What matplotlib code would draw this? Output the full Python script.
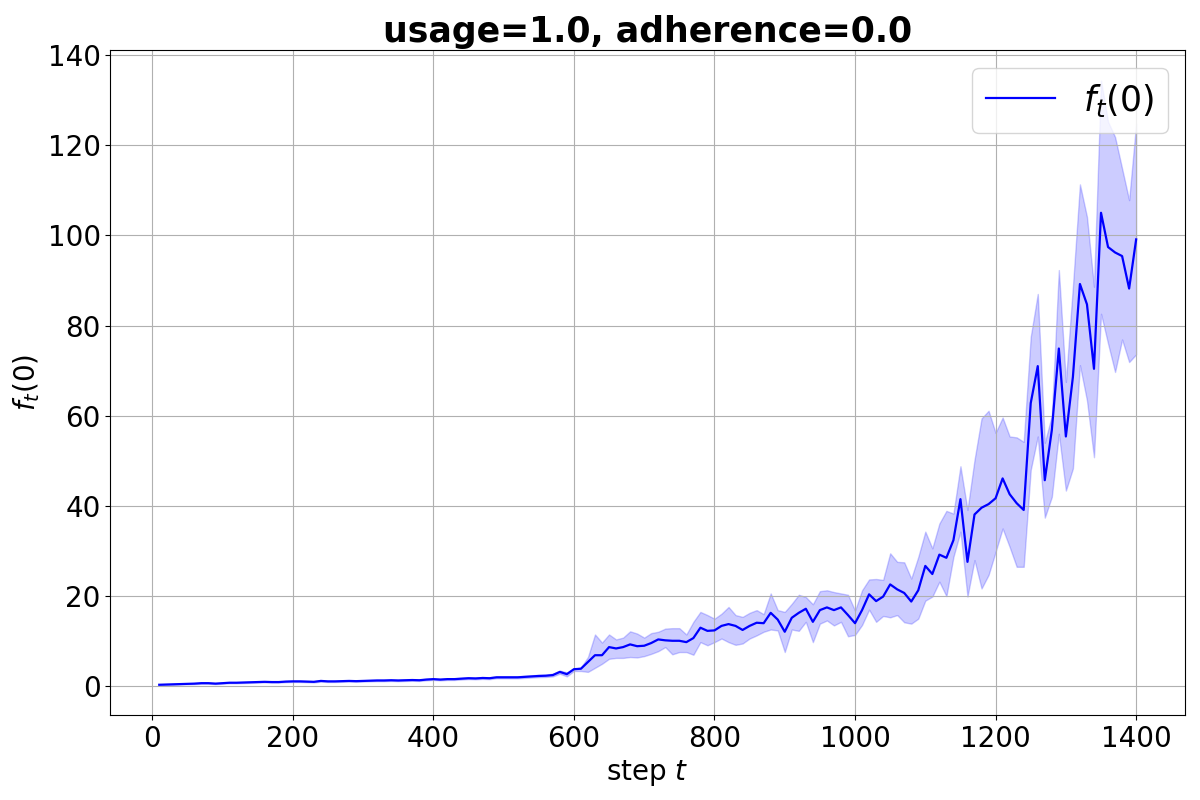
import numpy as np
import matplotlib
matplotlib.use("Agg")
import matplotlib.pyplot as plt

#%% data (one point every 10 steps)
steps = np.arange(10, 1410, 10)

mean_f = [
    0.35, 0.40, 0.45, 0.50, 0.55, 0.60, 0.70, 0.70, 0.60, 0.70,
    0.80, 0.80, 0.85, 0.90, 0.95, 1.00, 0.95, 0.95, 1.05, 1.10,
    1.10, 1.05, 1.00, 1.20, 1.10, 1.10, 1.15, 1.20, 1.15, 1.20,
    1.25, 1.30, 1.30, 1.35, 1.30, 1.35, 1.40, 1.35, 1.50, 1.60,
    1.50, 1.60, 1.60, 1.70, 1.80, 1.75, 1.85, 1.80, 2.00, 2.00,
    2.00, 2.00, 2.10, 2.20, 2.30, 2.35, 2.50,
    3.2, 2.7, 3.8, 3.9, 5.4, 6.9, 6.9, 8.7, 8.4, 8.7,
    9.3, 8.9, 9.0, 9.6, 10.4, 10.2, 10.1, 10.1, 9.8, 10.7,
    13.0, 12.3, 12.4, 13.4, 13.8, 13.4, 12.5, 13.4, 14.1, 14.0,
    16.3, 14.8, 12.1, 15.2, 16.3, 17.2, 14.3, 16.9, 17.5, 16.9,
    17.5, 15.8, 14.0, 16.9, 20.4, 18.9, 19.9, 22.6, 21.5, 20.7,
    18.8, 21.3, 26.7, 24.9, 29.2, 28.5, 32.4, 41.5, 27.6, 38.1,
    39.6, 40.4, 41.7, 46.1, 42.6, 40.6, 39.1, 62.8, 71.0, 45.7,
    56.8, 74.9, 55.4, 68.6, 89.2, 84.7, 70.4, 105.0, 97.4, 96.2,
    95.4, 88.2, 99.1,
]

upper_f = [
    0.45, 0.50, 0.55, 0.60, 0.65, 0.72, 0.82, 0.82, 0.72, 0.82,
    0.92, 0.92, 0.98, 1.03, 1.08, 1.13, 1.08, 1.08, 1.18, 1.24,
    1.24, 1.19, 1.14, 1.36, 1.24, 1.24, 1.30, 1.35, 1.30, 1.35,
    1.40, 1.46, 1.46, 1.51, 1.46, 1.51, 1.57, 1.51, 1.68, 1.78,
    1.68, 1.79, 1.79, 1.90, 2.00, 1.95, 2.06, 2.01, 2.22, 2.22,
    2.23, 2.23, 2.34, 2.45, 2.56, 2.62, 2.80,
    3.5, 3.1, 3.9, 4.2, 6.5, 11.5, 9.7, 11.5, 10.4, 10.8,
    12.2, 11.7, 10.8, 11.8, 12.1, 12.8, 12.9, 12.9, 11.5, 14.3,
    16.5, 15.8, 15.0, 16.1, 17.6, 15.8, 15.4, 16.3, 16.9, 16.0,
    20.6, 16.9, 16.5, 18.3, 20.3, 19.8, 18.2, 21.1, 21.3, 20.9,
    20.6, 20.3, 16.8, 21.3, 23.7, 23.8, 23.6, 29.5, 27.6, 27.5,
    23.9, 28.7, 34.3, 30.6, 36.1, 38.9, 38.3, 48.8, 39.1, 50.2,
    59.4, 61.1, 56.2, 59.6, 55.4, 55.2, 54.2, 77.5, 87.0, 54.0,
    60.0, 92.3, 67.5, 88.6, 111.3, 104.1, 88.6, 134.3, 125.2, 121.8,
    114.8, 107.8, 124.8,
]

lower_f = [
    0.27, 0.31, 0.35, 0.40, 0.45, 0.49, 0.58, 0.58, 0.49, 0.58,
    0.68, 0.68, 0.72, 0.77, 0.82, 0.87, 0.82, 0.82, 0.92, 0.96,
    0.96, 0.91, 0.86, 1.04, 0.96, 0.96, 1.00, 1.05, 1.00, 1.05,
    1.10, 1.14, 1.14, 1.19, 1.14, 1.19, 1.23, 1.19, 1.32, 1.42,
    1.32, 1.41, 1.41, 1.50, 1.60, 1.55, 1.64, 1.59, 1.78, 1.78,
    1.77, 1.77, 1.86, 1.95, 2.04, 2.08, 2.20,
    2.8, 2.2, 3.4, 3.4, 3.2, 4.1, 5.0, 6.1, 6.3, 6.3,
    6.5, 6.4, 6.7, 7.2, 7.8, 8.7, 7.1, 7.6, 7.6, 7.0,
    9.8, 9.1, 9.8, 10.6, 9.8, 9.2, 9.5, 10.6, 11.3, 12.1,
    12.6, 12.4, 7.6, 12.6, 12.3, 14.3, 9.8, 13.9, 14.6, 13.5,
    14.3, 11.1, 11.4, 13.6, 17.0, 14.3, 15.6, 15.3, 15.8, 14.2,
    13.9, 15.0, 19.0, 19.9, 23.2, 20.0, 28.7, 34.3, 19.9, 28.0,
    21.7, 24.7, 29.8, 35.0, 30.9, 26.5, 26.5, 48.0, 55.4, 37.4,
    42.0, 56.0, 43.4, 48.3, 71.2, 63.4, 50.8, 82.6, 76.0, 69.7,
    76.9, 71.9, 73.6,
]

#%% plot
fig = plt.figure(figsize=(12, 8), dpi=100)
ax = fig.add_axes([0.092, 0.106, 0.8955, 0.831])

ax.plot(steps, mean_f, color='blue', linewidth=1.6, label=r'$f_t(0)$')
ax.fill_between(steps, lower_f, upper_f, color='blue', alpha=0.2)

ax.set_ylim(-6.4, 141.0)
ax.set_xticks([0, 200, 400, 600, 800, 1000, 1200, 1400])
ax.set_yticks([0, 20, 40, 60, 80, 100, 120, 140])
ax.tick_params(labelsize=20)
ax.grid(True)

ax.set_xlabel(r'step $t$', fontsize=20)
ax.set_ylabel(r'$f_t(0)$', fontsize=20)
ax.set_title('usage=1.0, adherence=0.0', fontsize=25, fontweight='bold')
ax.legend(loc='upper right', fontsize=25)

fig.savefig('out.png', dpi=100)
